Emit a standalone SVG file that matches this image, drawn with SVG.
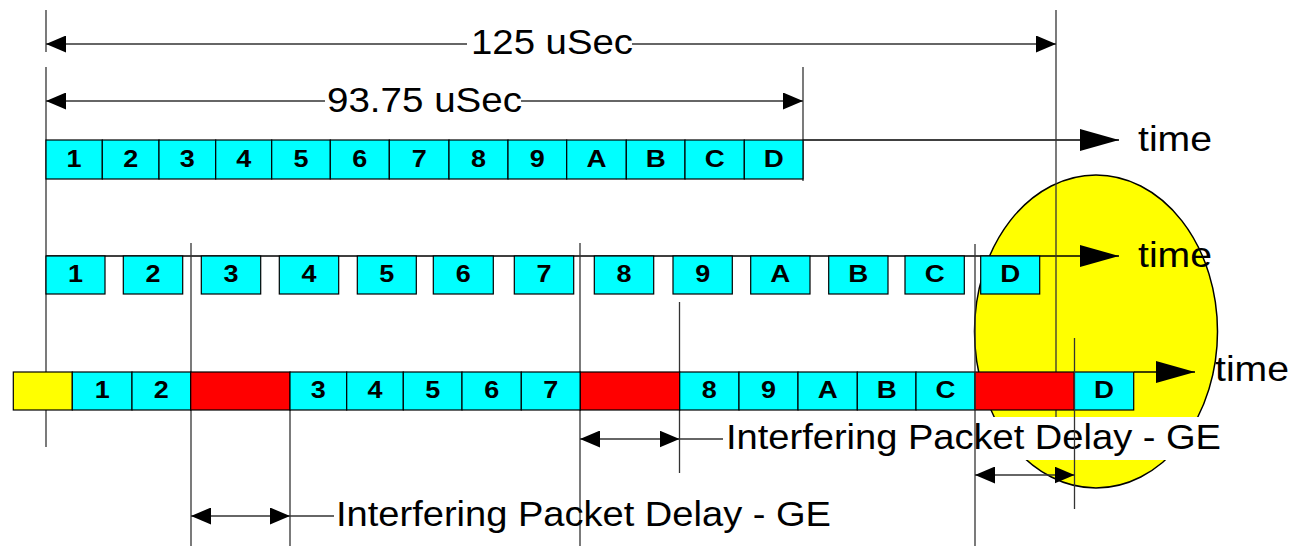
<svg xmlns="http://www.w3.org/2000/svg" width="1289" height="546" viewBox="0 0 1289 546">
<defs>
<style>
.ln{stroke:#333;stroke-width:1.3;fill:none}
.ax{stroke:#000;stroke-width:1.3;fill:none}
.cy{fill:#00FFFF;stroke:#000;stroke-width:1.2}
.rd{fill:#FF0000;stroke:#000;stroke-width:1.2}
.yl{fill:#FFFF00;stroke:#000;stroke-width:1.2}
.lb{font-family:"Liberation Sans",Arial,sans-serif;font-weight:bold;font-size:24px;text-anchor:middle;fill:#000}
.tx{font-family:"Liberation Sans",Arial,sans-serif;font-size:35px;fill:#000}
</style>
<marker id="sm" viewBox="0 0 20 17" refX="20" refY="8.5" markerWidth="20" markerHeight="17" markerUnits="userSpaceOnUse" orient="auto-start-reverse"><path d="M0,0 L20,8.5 L0,17 z" fill="#000"/></marker>
<marker id="bg" viewBox="0 0 39 22" refX="39" refY="11" markerWidth="39" markerHeight="22" markerUnits="userSpaceOnUse" orient="auto"><path d="M0,0 L39,11 L0,22 z" fill="#000"/></marker>
</defs>
<rect width="1289" height="546" fill="#fff"/>

<g id="highlight">
<ellipse cx="1096" cy="331.5" rx="121.5" ry="156.5" fill="#FFFF00" stroke="#000" stroke-width="1.5"/>
</g>

<g id="connectors">
<line class="ax" x1="803" y1="140" x2="1119" y2="140" marker-end="url(#bg)"/>
<line class="ax" x1="46" y1="256" x2="1119" y2="256" marker-end="url(#bg)"/>
<line class="ax" x1="1134" y1="372" x2="1195" y2="372" marker-end="url(#bg)"/>
<line class="ln" x1="46" y1="10" x2="46" y2="52"/>
<line class="ln" x1="46" y1="67" x2="46" y2="447"/>
<line class="ln" x1="803" y1="67" x2="803" y2="181"/>
<line class="ln" x1="1056" y1="10" x2="1056" y2="417"/>
<line class="ln" x1="191" y1="243" x2="191" y2="546"/>
<line class="ln" x1="290" y1="410" x2="290" y2="546"/>
<line class="ln" x1="580" y1="243" x2="580" y2="546"/>
<line class="ln" x1="679.5" y1="302" x2="679.5" y2="473"/>
<line class="ln" x1="46" y1="44" x2="467" y2="44" marker-start="url(#sm)"/>
<line class="ln" x1="632" y1="44" x2="1056" y2="44" marker-end="url(#sm)"/>
<line class="ln" x1="46" y1="101" x2="325" y2="101" marker-start="url(#sm)"/>
<line class="ln" x1="521" y1="101" x2="803" y2="101" marker-end="url(#sm)"/>
<line class="ln" x1="580" y1="439" x2="679.5" y2="439" marker-start="url(#sm)" marker-end="url(#sm)"/>
<line class="ln" x1="679.5" y1="439" x2="723" y2="439"/>
<line class="ln" x1="191" y1="516" x2="290" y2="516" marker-start="url(#sm)" marker-end="url(#sm)"/>
<line class="ln" x1="290" y1="516" x2="334" y2="516"/>
</g>

<g id="row1">
<rect class="cy" x="46" y="140" width="56.3" height="39"/><text class="lb" x="74" y="167" textLength="15" lengthAdjust="spacingAndGlyphs">1</text>
<rect class="cy" x="102.3" y="140" width="56.7" height="39"/><text class="lb" x="130.7" y="167" textLength="15" lengthAdjust="spacingAndGlyphs">2</text>
<rect class="cy" x="159" y="140" width="56.7" height="39"/><text class="lb" x="187.3" y="167" textLength="15" lengthAdjust="spacingAndGlyphs">3</text>
<rect class="cy" x="215.7" y="140" width="56" height="39"/><text class="lb" x="243.7" y="167" textLength="15" lengthAdjust="spacingAndGlyphs">4</text>
<rect class="cy" x="271.7" y="140" width="58.6" height="39"/><text class="lb" x="301" y="167" textLength="15" lengthAdjust="spacingAndGlyphs">5</text>
<rect class="cy" x="330.3" y="140" width="59" height="39"/><text class="lb" x="359.8" y="167" textLength="15" lengthAdjust="spacingAndGlyphs">6</text>
<rect class="cy" x="389.3" y="140" width="59.7" height="39"/><text class="lb" x="419.2" y="167" textLength="15" lengthAdjust="spacingAndGlyphs">7</text>
<rect class="cy" x="449" y="140" width="59" height="39"/><text class="lb" x="478.5" y="167" textLength="15" lengthAdjust="spacingAndGlyphs">8</text>
<rect class="cy" x="508" y="140" width="58.7" height="39"/><text class="lb" x="537.3" y="167" textLength="15" lengthAdjust="spacingAndGlyphs">9</text>
<rect class="cy" x="566.7" y="140" width="59.6" height="39"/><text class="lb" x="596.5" y="167" textLength="20" lengthAdjust="spacingAndGlyphs">A</text>
<rect class="cy" x="626.3" y="140" width="58.7" height="39"/><text class="lb" x="655.7" y="167" textLength="20" lengthAdjust="spacingAndGlyphs">B</text>
<rect class="cy" x="685" y="140" width="59.3" height="39"/><text class="lb" x="714.7" y="167" textLength="20" lengthAdjust="spacingAndGlyphs">C</text>
<rect class="cy" x="744.3" y="140" width="58.7" height="39"/><text class="lb" x="773.7" y="167" textLength="20" lengthAdjust="spacingAndGlyphs">D</text>
</g>

<g id="row2">
<rect class="cy" x="46" y="256" width="59" height="38"/><text class="lb" x="75.5" y="282" textLength="15" lengthAdjust="spacingAndGlyphs">1</text>
<rect class="cy" x="123.3" y="256" width="59.4" height="38"/><text class="lb" x="153" y="282" textLength="15" lengthAdjust="spacingAndGlyphs">2</text>
<rect class="cy" x="201.3" y="256" width="59.4" height="38"/><text class="lb" x="231" y="282" textLength="15" lengthAdjust="spacingAndGlyphs">3</text>
<rect class="cy" x="279.3" y="256" width="59.4" height="38"/><text class="lb" x="309" y="282" textLength="15" lengthAdjust="spacingAndGlyphs">4</text>
<rect class="cy" x="357.3" y="256" width="59" height="38"/><text class="lb" x="386.8" y="282" textLength="15" lengthAdjust="spacingAndGlyphs">5</text>
<rect class="cy" x="433.3" y="256" width="60" height="38"/><text class="lb" x="463.3" y="282" textLength="15" lengthAdjust="spacingAndGlyphs">6</text>
<rect class="cy" x="514.3" y="256" width="59.4" height="38"/><text class="lb" x="544" y="282" textLength="15" lengthAdjust="spacingAndGlyphs">7</text>
<rect class="cy" x="594.3" y="256" width="59.4" height="38"/><text class="lb" x="624" y="282" textLength="15" lengthAdjust="spacingAndGlyphs">8</text>
<rect class="cy" x="673" y="256" width="59.3" height="38"/><text class="lb" x="702.7" y="282" textLength="15" lengthAdjust="spacingAndGlyphs">9</text>
<rect class="cy" x="750.7" y="256" width="59.3" height="38"/><text class="lb" x="780.3" y="282" textLength="20" lengthAdjust="spacingAndGlyphs">A</text>
<rect class="cy" x="828.7" y="256" width="59.3" height="38"/><text class="lb" x="858.3" y="282" textLength="20" lengthAdjust="spacingAndGlyphs">B</text>
<rect class="cy" x="905" y="256" width="59.3" height="38"/><text class="lb" x="934.7" y="282" textLength="20" lengthAdjust="spacingAndGlyphs">C</text>
<rect class="cy" x="980.7" y="256" width="59" height="38"/><text class="lb" x="1010.2" y="282" textLength="20" lengthAdjust="spacingAndGlyphs">D</text>
</g>

<g id="row3">
<rect class="yl" x="13.3" y="372" width="59" height="38"/>
<rect class="cy" x="72.3" y="372" width="59.7" height="38"/><text class="lb" x="102.2" y="398" textLength="15" lengthAdjust="spacingAndGlyphs">1</text>
<rect class="cy" x="132" y="372" width="58.7" height="38"/><text class="lb" x="161.3" y="398" textLength="15" lengthAdjust="spacingAndGlyphs">2</text>
<rect class="rd" x="190.7" y="372" width="99.3" height="38"/>
<rect class="cy" x="290" y="372" width="56.7" height="38"/><text class="lb" x="318.3" y="398" textLength="15" lengthAdjust="spacingAndGlyphs">3</text>
<rect class="cy" x="346.7" y="372" width="56.6" height="38"/><text class="lb" x="375" y="398" textLength="15" lengthAdjust="spacingAndGlyphs">4</text>
<rect class="cy" x="403.3" y="372" width="58.7" height="38"/><text class="lb" x="432.7" y="398" textLength="15" lengthAdjust="spacingAndGlyphs">5</text>
<rect class="cy" x="462" y="372" width="59.3" height="38"/><text class="lb" x="491.7" y="398" textLength="15" lengthAdjust="spacingAndGlyphs">6</text>
<rect class="cy" x="521.3" y="372" width="59" height="38"/><text class="lb" x="550.8" y="398" textLength="15" lengthAdjust="spacingAndGlyphs">7</text>
<rect class="rd" x="580.3" y="372" width="99.4" height="38"/>
<rect class="cy" x="679.7" y="372" width="59.3" height="38"/><text class="lb" x="709.3" y="398" textLength="15" lengthAdjust="spacingAndGlyphs">8</text>
<rect class="cy" x="739" y="372" width="59" height="38"/><text class="lb" x="768.5" y="398" textLength="15" lengthAdjust="spacingAndGlyphs">9</text>
<rect class="cy" x="798" y="372" width="59.3" height="38"/><text class="lb" x="827.7" y="398" textLength="20" lengthAdjust="spacingAndGlyphs">A</text>
<rect class="cy" x="857.3" y="372" width="58.7" height="38"/><text class="lb" x="886.7" y="398" textLength="20" lengthAdjust="spacingAndGlyphs">B</text>
<rect class="cy" x="916" y="372" width="59" height="38"/><text class="lb" x="945.5" y="398" textLength="20" lengthAdjust="spacingAndGlyphs">C</text>
<rect class="rd" x="975" y="372" width="99.3" height="38"/>
<rect class="cy" x="1074.3" y="372" width="59.4" height="38"/><text class="lb" x="1104" y="398" textLength="20" lengthAdjust="spacingAndGlyphs">D</text>
</g>

<g id="labels">
<text class="tx" x="471" y="54" font-size="34" textLength="162" lengthAdjust="spacingAndGlyphs">125 uSec</text>
<text class="tx" x="327" y="112" font-size="34" textLength="195" lengthAdjust="spacingAndGlyphs">93.75 uSec</text>
<text class="tx" x="1138" y="151" textLength="74" lengthAdjust="spacingAndGlyphs">time</text>
<text class="tx" x="1138" y="267" textLength="74" lengthAdjust="spacingAndGlyphs">time</text>
<text class="tx" x="1215" y="381" textLength="74" lengthAdjust="spacingAndGlyphs">time</text>
<rect x="723" y="417" width="500" height="43" fill="#fff"/>
<text class="tx" x="726" y="449" textLength="495" lengthAdjust="spacingAndGlyphs">Interfering Packet Delay - GE</text>
<text class="tx" x="336" y="526" textLength="495" lengthAdjust="spacingAndGlyphs">Interfering Packet Delay - GE</text>
</g>

<g id="delay-arrows">
<line class="ln" x1="975" y1="244" x2="975" y2="546"/>
<line class="ln" x1="1074.5" y1="338" x2="1074.5" y2="509"/>
<line class="ln" x1="975" y1="475" x2="1074.5" y2="475" marker-start="url(#sm)" marker-end="url(#sm)"/>
</g>
</svg>
